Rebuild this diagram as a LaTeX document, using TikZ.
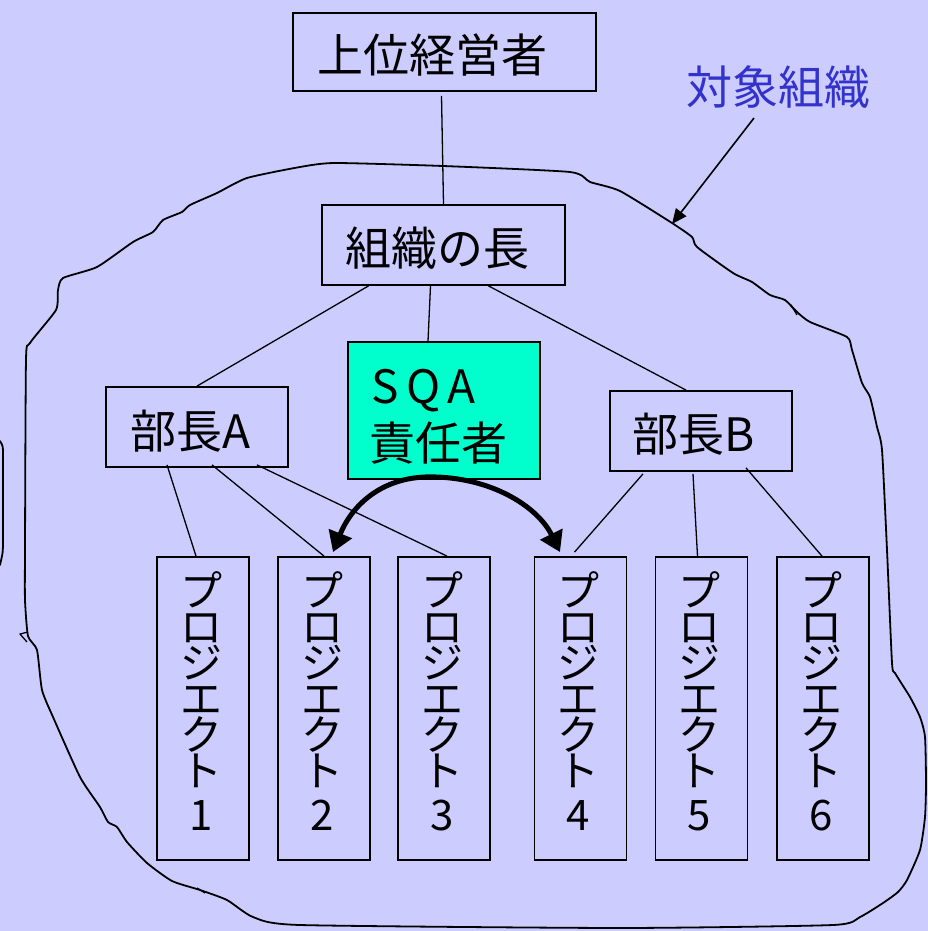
\documentclass[tikz,border=0pt]{standalone}
\usepackage{fontspec}
\setmainfont{Noto Sans CJK JP}
\usetikzlibrary{arrows.meta,calc}
\definecolor{bgc}{HTML}{CCCCFF}
\definecolor{sqac}{HTML}{00FFCC}
\definecolor{lblc}{HTML}{3333CC}
\newcommand\projstack[1]{\vbox{\baselineskip=36pt\lineskiplimit=-100pt\lineskip=0pt\halign{\hfil##\hfil\cr プ\cr ロ\cr ジ\cr エ\cr ク\cr ト\cr\noalign{\vskip 8pt}#1\cr}}}
\begin{document}
\begin{tikzpicture}[x=1pt,y=-1pt,
  box/.style={draw, line width=1.8pt, inner sep=0pt},
  pbox/.style={box, minimum width=92pt, minimum height=303pt},
  lbl/.style={inner sep=0pt, font=\fontsize{46}{50}\selectfont},
  ptxt/.style={inner sep=0pt, font=\fontsize{42}{36}\selectfont},
  conn/.style={line width=1.3pt},
  outl/.style={line width=1.8pt, line join=round, line cap=round},
  bigarrow/.style={line width=5pt, {Triangle[length=20pt,width=24pt]}-{Triangle[length=20pt,width=24pt]}},
  lblarrow/.style={line width=1.6pt, -{Triangle[length=15pt,width=13pt]}}]
\fill[bgc] (0,0) rectangle (928,931);
\useasboundingbox (0,0) rectangle (928,931);

% freehand outline of the target organisation
\draw[outl] plot[smooth cycle, tension=0.35] coordinates {
 (25,550) (26,360) (30,343) (56,310) (58,290) (63,278) (97,267) (133,242) (153,232) (163,220)
 (182,212) (190,205) (217,193) (247,178) (300,167) (335,163) (443,166) (570,172) (590,182)
 (620,191) (672,223) (692,237) (697,247) (733,273) (752,282) (770,295) (785,300) (797,312)
 (810,322) (847,337) (852,350) (862,383) (870,397) (877,427) (882,450) (887,550) (892,663)
 (895,673) (910,697) (920,717) (925,737) (926,783) (925,817) (920,850) (907,880) (898,892)
 (883,903) (860,917) (833,925) (620,928) (300,925) (253,917) (227,900) (200,890) (172,881)
 (147,863) (127,842) (117,827) (108,822) (100,807) (80,777) (53,717) (42,690) (37,650)
 (28,636) (25,600)};
\draw[line width=1.3pt, line join=round] (28,632) -- (20,634) -- (27,642);
\draw[line width=1.3pt] (791,305) -- (797,315);
\draw[line width=1.3pt] (197,888) -- (205,893);
\draw[outl] (0,441) .. controls (3,446) .. (3,455) -- (3,540) .. controls (3,552) .. (0,565);

% boxes
\node[box, minimum width=303pt, minimum height=78pt] (top) at (444.5,52) {};
\node[box, minimum width=243pt, minimum height=80pt] (org) at (443.5,245) {};
\node[box, fill=sqac, minimum width=192pt, minimum height=137pt] (sqa) at (444,410.5) {};
\node[box, minimum width=182pt, minimum height=80pt] (dA) at (197,427) {};
\node[box, minimum width=182pt, minimum height=80pt] (dB) at (701,431) {};
\node[pbox] (p1) at (203,708.5) {};
\node[pbox] (p2) at (324,708.5) {};
\node[pbox] (p3) at (444,708.5) {};
\node[pbox] (p4) at (580.5,708.5) {};
\node[pbox] (p5) at (701.5,708.5) {};
\node[pbox] (p6) at (823,708.5) {};

% texts
\node[lbl] (topT) at (432,55) {上位経営者};
\node[lbl] (orgT) at (437.5,248) {組織の長};
\node[lbl] (dAT) at (190,431) {部長A};
\node[lbl] (dBT) at (694,434) {部長B};
\node[lbl, text=lblc] (obj) at (778,87) {対象組織};
\node[lbl, anchor=base west] (sqaT) at (366,403) {\makebox[38pt]{S}\makebox[38pt]{Q}\makebox[38pt]{A}};
\node[lbl] (sqaT2) at (438,443) {責任者};
\node[ptxt] (p1T) at (201,701) {\projstack{1}};
\node[ptxt] (p2T) at (322,701) {\projstack{2}};
\node[ptxt] (p3T) at (442,701) {\projstack{3}};
\node[ptxt] (p4T) at (578.5,701) {\projstack{4}};
\node[ptxt] (p5T) at (699.5,701) {\projstack{5}};
\node[ptxt] (p6T) at (821,701) {\projstack{6}};

% connectors
\draw[conn] ($(top.south)+(-3,4)$) -- (org.north);
\draw[conn] ($(org.south)+(-13,0)$) -- ($(sqa.north)+(-16,0)$);
\draw[conn] ($(org.south)+(-75,0)$) -- (dA.north);
\draw[conn] ($(org.south)+(45,0)$) -- ($(dB.north)+(-15,0)$);
\draw[conn] ($(dA.south)+(-30,-3)$) -- ($(p1.north)+(-7,0)$);
\draw[conn] ($(dA.south)+(15,-3)$) -- (p2.north);
\draw[conn] ($(dA.south)+(60,-3)$) -- ($(p3.north)+(3,0)$);
\draw[conn] ($(dB.south)+(-58,2)$) -- ($(p4.north)+(-6,-4)$);
\draw[conn] ($(dB.south)+(-8,2)$) -- ($(p5.north)+(-4,0)$);
\draw[conn] ($(dB.south)+(45,-4)$) -- ($(p6.north)+(-1,0)$);

% SQA influence arrows
\coordinate (apex) at ($(sqa.south)+(-14,-3)$);
\coordinate (tipL) at ($(p2.north)+(9,-4)$);
\coordinate (tipR) at ($(p4.north)+(-20.5,-4)$);
\draw[bigarrow] (tipL) .. controls ($(tipL)+(18,-45)$) and ($(apex)+(-50,0)$) .. (apex)
  .. controls ($(apex)+(62,0)$) and ($(tipR)+(-22,-45)$) .. (tipR);

% label arrow
\coordinate (lblS) at (754,118);
\coordinate (lblE) at (672,224);
\draw[lblarrow] (lblS) -- (lblE);
\end{tikzpicture}
\end{document}
